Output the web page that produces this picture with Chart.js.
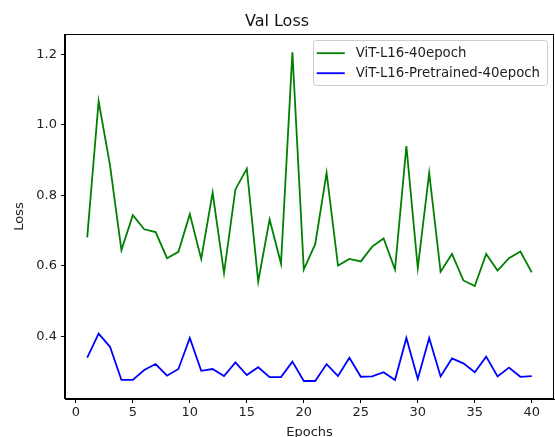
<!DOCTYPE html>
<html><head><meta charset="utf-8">
<script src="https://cdn.jsdelivr.net/npm/chart.js@4/dist/chart.umd.min.js"></script>
<style>html,body{margin:0;padding:0;background:#fff}#wrap{width:555px;height:437px}</style>
</head><body><div id="wrap"><canvas id="c" width="555" height="437"></canvas></div>
<script>
const epochs = [1,2,3,4,5,6,7,8,9,10,11,12,13,14,15,16,17,18,19,20,21,22,23,24,25,26,27,28,29,30,31,32,33,34,35,36,37,38,39,40];
const vitScratch = [0.681,1.067,0.885,0.645,0.744,0.704,0.696,0.622,0.640,0.747,0.620,0.808,0.580,0.817,0.876,0.556,0.732,0.607,1.206,0.590,0.662,0.864,0.601,0.620,0.613,0.655,0.678,0.590,0.940,0.594,0.864,0.584,0.634,0.559,0.543,0.634,0.587,0.622,0.641,0.582];
const vitPretrained = [0.340,0.408,0.371,0.277,0.277,0.305,0.322,0.289,0.308,0.396,0.303,0.308,0.288,0.327,0.291,0.313,0.285,0.285,0.329,0.274,0.274,0.322,0.288,0.340,0.286,0.287,0.299,0.277,0.396,0.280,0.396,0.287,0.338,0.324,0.299,0.343,0.287,0.312,0.286,0.288];
const seriesLabels = ['ViT-L16-40epoch','ViT-L16-Pretrained-40epoch'];
const xTicks = [0,5,10,15,20,25,30,35,40];
const yTicks = [0.4,0.6,0.8,1.0,1.2];

const FONT = "'DejaVu Sans', sans-serif";

const boxPlugin = {
  id: 'box',
  afterDraw(chart) {
    const {ctx, chartArea: a} = chart;
    ctx.save();
    ctx.strokeStyle = '#000';
    ctx.lineWidth = 1;
    ctx.strokeRect(Math.round(a.left) - 0.5, Math.round(a.top) + 0.5, Math.round(a.right - a.left), Math.round(a.bottom - a.top) - 1);
    ctx.restore();
  }
};

const innerLegend = {
  id: 'innerLegend',
  afterDraw(chart) {
    const {ctx, chartArea: a} = chart;
    const ds = chart.data.datasets;
    ctx.save();
    ctx.font = '13.3px ' + FONT;
    let maxW = 0;
    ds.forEach(d => { maxW = Math.max(maxW, ctx.measureText(d.label).width); });
    const rowH = 20, padX = 4, handle = 28, gap = 11;
    const w = padX + handle + gap + maxW + 7;
    const h = 45;
    const x = a.right - 7 - w, y = a.top + 6;
    ctx.fillStyle = 'rgba(255,255,255,0.8)';
    ctx.strokeStyle = '#cccccc';
    ctx.lineWidth = 1;
    ctx.beginPath();
    ctx.roundRect(Math.round(x) + 0.5, Math.round(y) + 0.5, Math.round(w), h, 3);
    ctx.fill(); ctx.stroke();
    ds.forEach((d, i) => {
      const cy = y + 13 + i * rowH;
      ctx.strokeStyle = d.borderColor;
      ctx.lineWidth = d.borderWidth;
      ctx.beginPath();
      ctx.moveTo(x + padX, cy);
      ctx.lineTo(x + padX + handle, cy);
      ctx.stroke();
      ctx.fillStyle = '#222';
      ctx.textBaseline = 'middle';
      ctx.textAlign = 'left';
      ctx.fillText(d.label, x + padX + handle + gap, cy);
    });
    ctx.restore();
  }
};

new Chart(document.getElementById('c'), {
  type: 'line',
  data: {
    datasets: [
      { label: seriesLabels[0], data: epochs.map((e, i) => ({x: e, y: vitScratch[i]})), borderColor: '#008000', backgroundColor: '#008000', borderWidth: 1.8, pointRadius: 0, tension: 0 },
      { label: seriesLabels[1], data: epochs.map((e, i) => ({x: e, y: vitPretrained[i]})), borderColor: '#0000ff', backgroundColor: '#0000ff', borderWidth: 1.8, pointRadius: 0, tension: 0 }
    ]
  },
  options: {
    responsive: false,
    devicePixelRatio: 1,
    animation: false,
    layout: { padding: { left: 0, right: 1, top: 0, bottom: 0 } },
    plugins: {
      legend: { display: false },
      tooltip: { enabled: false },
      title: { display: true, text: 'Val Loss', color: '#111', font: { family: FONT, size: 16, weight: 'normal' }, padding: { top: 12, bottom: 3 } }
    },
    scales: {
      x: {
        type: 'linear', min: -0.95, max: 41.95,
        afterBuildTicks(s) { s.ticks = xTicks.map(v => ({value: v})); },
        afterFit(s) { s.height = 38; },
        grid: { drawOnChartArea: false, drawTicks: true, tickLength: 4, color: '#000', lineWidth: 1 },
        border: { display: true, color: '#000', width: 1 },
        ticks: { color: '#222', font: { family: FONT, size: 13 }, padding: 2, maxRotation: 0, autoSkip: false },
        title: { display: true, text: 'Epochs', color: '#222', font: { family: FONT, size: 13 }, padding: { top: 0, bottom: -3 } }
      },
      y: {
        type: 'linear', min: 0.223, max: 1.257,
        afterBuildTicks(s) { s.ticks = yTicks.map(v => ({value: v})); },
        afterFit(s) { s.width = 65; },
        grid: { drawOnChartArea: false, drawTicks: true, tickLength: 4, color: '#000', lineWidth: 1 },
        border: { display: true, color: '#000', width: 1 },
        ticks: { color: '#222', font: { family: FONT, size: 13 }, padding: 4, autoSkip: false, callback: v => v.toFixed(1) },
        title: { display: true, text: 'Loss', color: '#222', font: { family: FONT, size: 13 }, padding: { top: 12, bottom: 0 } }
      }
    }
  },
  plugins: [boxPlugin, innerLegend]
});
</script>
</body></html>
